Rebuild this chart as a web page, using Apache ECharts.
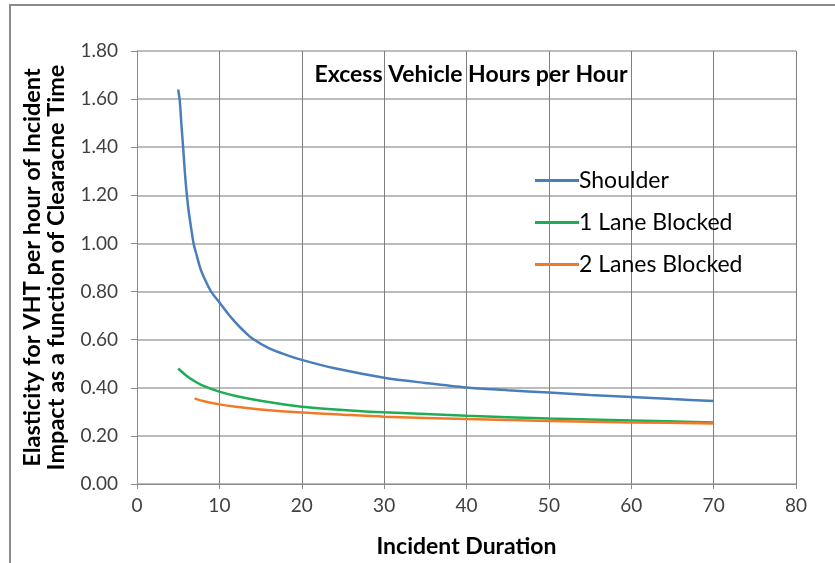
<!DOCTYPE html>
<html><head><meta charset="utf-8">
<script src="https://cdn.jsdelivr.net/npm/echarts@6/dist/echarts.min.js"></script>
<style>html,body{margin:0;padding:0;background:#fff}#c{width:835px;height:563px}</style>
</head><body><div id="c"></div>
<script>
const titleText = "Excess Vehicle Hours per Hour";
const xAxisName = "Incident Duration";
const yAxisName = "Elasticity for VHT per hour of Incident\nImpact as a function of Clearacne Time";
const seriesNames = ["Shoulder", "1 Lane Blocked", "2 Lanes Blocked"];
const shoulderX = [5, 5.2, 5.4, 5.6, 5.8, 6, 6.25, 6.5, 6.87, 7.25, 7.75, 8.25, 9, 10, 11, 12, 13, 14, 16, 18, 20, 24, 30, 35, 40, 45, 50, 55, 60, 65, 70];
const shoulderY = [1.64, 1.59, 1.49, 1.40, 1.30, 1.22, 1.14, 1.08, 1.00, 0.95, 0.89, 0.85, 0.80, 0.755, 0.71, 0.67, 0.635, 0.605, 0.565, 0.538, 0.516, 0.481, 0.442, 0.42, 0.401, 0.39, 0.38, 0.37, 0.362, 0.353, 0.345];
const lane1X = [5, 6, 7, 8, 10, 12, 15, 20, 25, 30, 40, 50, 60, 70];
const lane1Y = [0.48, 0.45, 0.427, 0.409, 0.384, 0.366, 0.346, 0.321, 0.308, 0.298, 0.284, 0.272, 0.264, 0.256];
const lane2X = [7, 8, 10, 12, 15, 20, 25, 30, 40, 50, 60, 70];
const lane2Y = [0.356, 0.345, 0.331, 0.321, 0.31, 0.297, 0.288, 0.28, 0.27, 0.262, 0.256, 0.252];
const colors = ["#4a7ebb", "#1dae55", "#f07a28"];

const pair = (xs, ys) => xs.map((x, i) => [x, ys[i]]);
const chart = echarts.init(document.getElementById('c'));
const font = "Lato, 'Open Sans', sans-serif";
const mk = (i, xs, ys) => ({ name: seriesNames[i], type: 'line', data: pair(xs, ys), smooth: 0.3,
  showSymbol: false, lineStyle: { width: 2.5, color: colors[i] }, itemStyle: { color: colors[i] } });
chart.setOption({
  animation: false,
  backgroundColor: '#fff',
  textStyle: { fontFamily: font },
  graphic: [{ type: 'rect', shape: { x: 10, y: 5, width: 840, height: 580 }, style: { fill: 'none', stroke: '#8a8a8a', lineWidth: 2 }, z: -1 }],
  title: { text: titleText, left: 466, top: 58, textAlign: 'center',
    textStyle: { fontSize: 23, fontWeight: 'bold', color: '#000', fontFamily: font } },
  legend: {
    orient: 'vertical', left: 530, top: 164, itemGap: 19, itemWidth: 44, itemHeight: 3,
    icon: 'rect', textStyle: { fontSize: 23, color: '#000', fontFamily: font, padding: [0,0,0,-5] },
    data: seriesNames
  },
  grid: { left: 137, right: 39, top: 51, bottom: 79, containLabel: false },
  xAxis: {
    type: 'value', min: 0, max: 80, interval: 10,
    name: xAxisName, nameLocation: 'middle', nameGap: 51,
    nameTextStyle: { fontSize: 23, fontWeight: 'bold', color: '#000', fontFamily: font },
    axisLine: { show: true, lineStyle: { color: '#8c8c8c', width: 1 } },
    axisTick: { show: true, length: 5, lineStyle: { color: '#8c8c8c' } },
    axisLabel: { fontSize: 19, color: '#404040', margin: 12 },
    splitLine: { show: true, lineStyle: { color: '#808080', width: 1 } }
  },
  yAxis: {
    type: 'value', min: 0, max: 1.8, interval: 0.2,
    name: yAxisName, nameLocation: 'middle', nameGap: 69, nameRotate: 90,
    nameTextStyle: { fontSize: 23.5, fontWeight: 'bold', color: '#000', fontFamily: font, lineHeight: 24 },
    axisLine: { show: true, lineStyle: { color: '#8c8c8c', width: 1 } },
    axisTick: { show: true, length: 6, lineStyle: { color: '#8c8c8c' } },
    axisLabel: { fontSize: 19, color: '#404040', margin: 19, formatter: v => v.toFixed(2) },
    splitLine: { show: true, lineStyle: { color: '#a6a6a6', width: 1.5 } }
  },
  series: [ mk(0, shoulderX, shoulderY), mk(1, lane1X, lane1Y), mk(2, lane2X, lane2Y) ]
});
</script></body></html>
